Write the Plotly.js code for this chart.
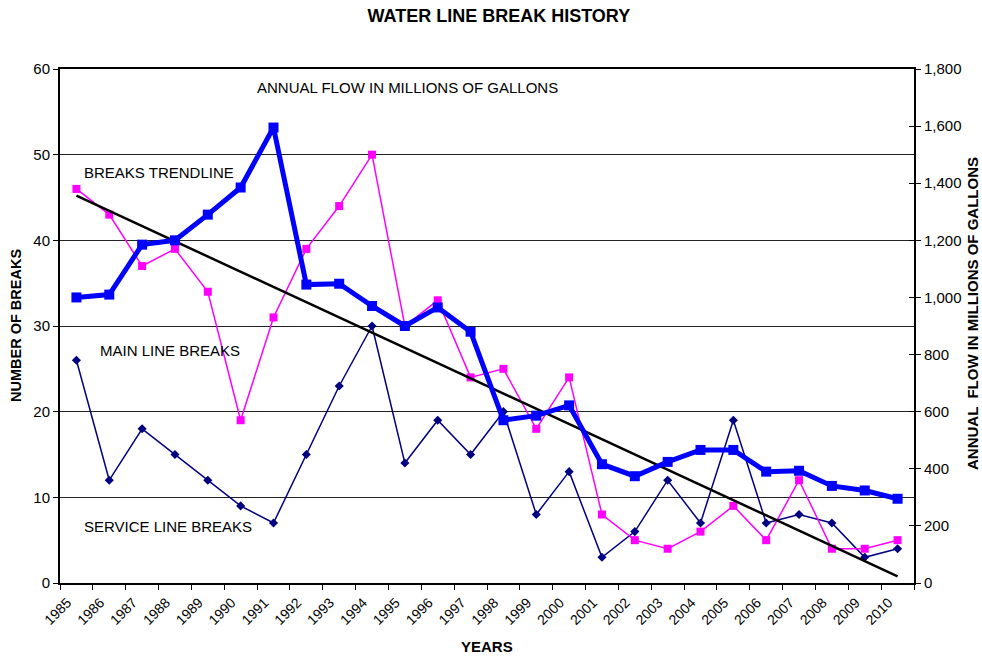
<!DOCTYPE html>
<html>
<head>
<meta charset="utf-8">
<script src="https://cdn.plot.ly/plotly-3.0.1.min.js"></script>
<style>html,body{margin:0;padding:0;background:#fff;}#chart{width:982px;height:658px;}</style>
</head>
<body>
<div id="chart"></div>
<script>
const years = ['1985','1986','1987','1988','1989','1990','1991','1992','1993','1994','1995','1996','1997','1998','1999','2000','2001','2002','2003','2004','2005','2006','2007','2008','2009','2010'];
const pinkBreaks = [46,43,37,39,34,19,31,39,44,50,30,33,24,25,18,24,8,5,4,6,9,5,12,4,4,5];
const navyBreaks = [26,12,18,15,12,9,7,15,23,30,14,19,15,20,8,13,3,6,12,7,19,7,8,7,3,4];
const annualFlow = [1000,1010,1185,1200,1290,1385,1595,1045,1048,970,900,965,880,570,586,622,416,374,424,466,466,390,393,340,324,295];

// least-squares trendline of the pink series
const n = pinkBreaks.length;
let sx=0, sy=0, sxy=0, sxx=0;
pinkBreaks.forEach((v,i)=>{sx+=i; sy+=v; sxy+=i*v; sxx+=i*i;});
const slope = (n*sxy - sx*sy)/(n*sxx - sx*sx);
const intercept = (sy - slope*sx)/n;
const trendX = [years[0], years[n-1]];
const trendY = [intercept, intercept + slope*(n-1)];

const font = 'Liberation Sans, Arial, sans-serif';

const traces = [
  {x: years, y: navyBreaks, type:'scatter', mode:'lines+markers', name:'Service line breaks',
   line:{color:'#000080', width:1.5}, marker:{symbol:'diamond', size:7, color:'#000080'}, yaxis:'y'},
  {x: years, y: pinkBreaks, type:'scatter', mode:'lines+markers', name:'Main line breaks',
   line:{color:'#FF00FF', width:1.5}, marker:{symbol:'square', size:8, color:'#FF00FF'}, yaxis:'y'},
  {x: trendX, y: trendY, type:'scatter', mode:'lines', name:'Breaks trendline',
   line:{color:'#000000', width:2.5}, yaxis:'y'},
  {x: years, y: annualFlow, type:'scatter', mode:'lines+markers', name:'Annual flow',
   line:{color:'#0000FF', width:5}, marker:{symbol:'square', size:10, color:'#0000FF'}, yaxis:'y2'}
];

function ann(text, x, y, opts){
  return Object.assign({text:text, x:x, y:y, xref:'paper', yref:'paper', showarrow:false,
    xanchor:'left', yanchor:'middle', font:{family:font, size:15, color:'#000'}}, opts||{});
}

const layout = {
  width:982, height:658,
  margin:{l:60, r:68, t:69, b:75},
  paper_bgcolor:'#fff', plot_bgcolor:'#fff',
  showlegend:false,
  font:{family:font, color:'#000'},
  title:{text:'<b>WATER LINE BREAK HISTORY</b>', font:{family:font, size:18, color:'#000'},
    x:0.508, xanchor:'center', y:1-16/658, yanchor:'middle', yref:'container'},
  xaxis:{type:'category', range:[-0.5,25.5], tickson:'boundaries', ticks:'outside', ticklen:5,
    tickcolor:'#000', tickwidth:1, showgrid:false, showline:true, linecolor:'#000', linewidth:2,
    mirror:true, tickangle:-45, tickfont:{family:font, size:14, color:'#000'}, ticklabelshift:-9,
    ticklabelstandoff:4},
  yaxis:{range:[0,60], dtick:10, ticks:'outside', ticklen:5, tickcolor:'#000', showline:true,
    linecolor:'#000', linewidth:2, showgrid:true, gridcolor:'#222', gridwidth:1, zeroline:false,
    tickfont:{family:font, size:15, color:'#000'}},
  yaxis2:{range:[0,1800], dtick:200, overlaying:'y', side:'right', tickformat:',d', ticks:'outside',
    ticklen:5, tickcolor:'#000', showline:true, linecolor:'#000', linewidth:2, showgrid:false,
    zeroline:false, tickfont:{family:font, size:15, color:'#000'}},
  yaxis3:{range:[0,1800], dtick:200, overlaying:'y', side:'right', ticks:'inside', ticklen:5,
    tickcolor:'#000', showticklabels:false, showline:false, showgrid:false, zeroline:false},
  annotations:[
    ann('ANNUAL FLOW IN MILLIONS OF GALLONS', 195/854, 496/514),
    ann('BREAKS TRENDLINE', 22/854, 410/514),
    ann('MAIN LINE BREAKS', 38/854, 233/514),
    ann('SERVICE LINE BREAKS', 22/854, 57/514),
    ann('<b>NUMBER OF BREAKS</b>', (16-60)/854, 0.5, {xanchor:'center', textangle:-90, font:{family:font, size:14.5, color:'#000'}}),
    ann('<b>ANNUAL  FLOW IN MILLIONS OF GALLONS</b>', (972-60)/854, (583-314)/514, {xanchor:'center', textangle:-90, font:{family:font, size:15, color:'#000'}}),
    ann('<b>YEARS</b>', 0.5, (583-646)/514, {xanchor:'center', font:{family:font, size:15, color:'#000'}})
  ]
};

// dummy trace to activate yaxis3 ticks
traces.push({x:[years[0]], y:[null], yaxis:'y3', type:'scatter', mode:'lines', hoverinfo:'skip', showlegend:false});

Plotly.newPlot('chart', traces, layout, {displayModeBar:false, staticPlot:true});
</script>
</body>
</html>
